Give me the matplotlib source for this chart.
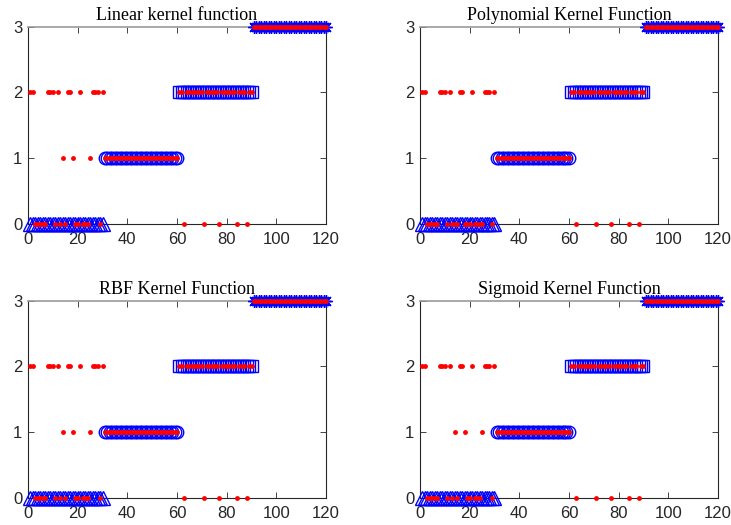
import numpy as np
import matplotlib
matplotlib.use("Agg")
import matplotlib.pyplot as plt

# sample index 1..120, four classes of 30 samples each
samples = np.arange(1, 121)
true_class = np.repeat([0, 1, 2, 3], 30)

# predicted labels
pred_linear = np.array([
    2, 2, 0, 0, 0, 0, 0, 2, 2, 2, 0, 2, 0, 1, 0, 2, 2, 1, 0, 0,
    2, 0, 0, 0, 1, 2, 2, 2, 0, 2,
    1, 1, 1, 1, 1, 1, 1, 1, 1, 1, 1, 1, 1, 1, 1, 1, 1, 1, 1, 1,
    1, 1, 1, 1, 1, 1, 1, 1, 1, 1,
    2, 2, 0, 2, 2, 2, 2, 2, 2, 2, 0, 2, 2, 2, 2, 2, 0, 2, 2, 2,
    2, 2, 2, 0, 2, 2, 2, 0, 2, 2,
    3, 3, 3, 3, 3, 3, 3, 3, 3, 3, 3, 3, 3, 3, 3, 3, 3, 3, 3, 3,
    3, 3, 3, 3, 3, 3, 3, 3, 3, 3,
])
pred_poly = np.array([
    2, 2, 0, 0, 0, 0, 0, 2, 2, 2, 0, 2, 0, 0, 0, 2, 2, 0, 0, 0,
    2, 0, 0, 0, 0, 2, 2, 2, 0, 2,
    1, 1, 1, 1, 1, 1, 1, 1, 1, 1, 1, 1, 1, 1, 1, 1, 1, 1, 1, 1,
    1, 1, 1, 1, 1, 1, 1, 1, 1, 1,
    2, 2, 0, 2, 2, 2, 2, 2, 2, 2, 0, 2, 2, 2, 2, 2, 0, 2, 2, 2,
    2, 2, 2, 0, 2, 2, 2, 0, 2, 2,
    3, 3, 3, 3, 3, 3, 3, 3, 3, 3, 3, 3, 3, 3, 3, 3, 3, 3, 3, 3,
    3, 3, 3, 3, 3, 3, 3, 3, 3, 3,
])
pred_rbf = pred_linear.copy()
pred_sigmoid = pred_linear.copy()

titles = ["Linear kernel function", "Polynomial Kernel Function",
          "RBF Kernel Function", "Sigmoid Kernel Function"]
preds = [pred_linear, pred_poly, pred_rbf, pred_sigmoid]

markers = {0: ("^", 10), 1: ("o", 9), 2: ("s", 8), 3: ((8, 2, 0), 9)}

dark = "#262626"
fig = plt.figure(figsize=(7.31, 5.25), dpi=100)
lefts = [0.0383, 0.5745, 0.0383, 0.5745]
bottoms = [0.5733, 0.5733, 0.0514, 0.0514]

for k in range(4):
    ax = fig.add_axes([lefts[k], bottoms[k], 0.4077, 0.376])
    for c in range(4):
        m, ms = markers[c]
        sel = true_class == c
        ax.plot(samples[sel], true_class[sel], linestyle="none", marker=m,
                markersize=ms, markerfacecolor="none", markeredgecolor="blue",
                markeredgewidth=1.0, clip_on=False, zorder=3)
    ax.plot(samples, preds[k], linestyle="none", marker="o", markersize=3.5,
            color="red", markeredgewidth=0, clip_on=False, zorder=4)
    ax.set_xlim(0, 120)
    ax.set_ylim(0, 3)
    ax.set_xticks(range(0, 121, 20))
    ax.set_yticks([0, 1, 2, 3])
    ax.tick_params(direction="in", top=True, right=True, length=4,
                   width=0.6, color=dark, labelcolor=dark, labelsize=12,
                   pad=4)
    ax.tick_params(axis="x", pad=6)
    for lab in ax.get_xticklabels() + ax.get_yticklabels():
        lab.set_fontfamily("Liberation Sans")
    for s in ["left", "right", "bottom"]:
        ax.spines[s].set_color(dark)
        ax.spines[s].set_linewidth(0.8)
    ax.spines["top"].set_color("#999999")
    ax.spines["top"].set_linewidth(1.2)
    ax.set_title(titles[k], fontfamily="Liberation Serif", fontsize=13,
                 pad=5, color="black")

fig.savefig("out.png", dpi=100)
